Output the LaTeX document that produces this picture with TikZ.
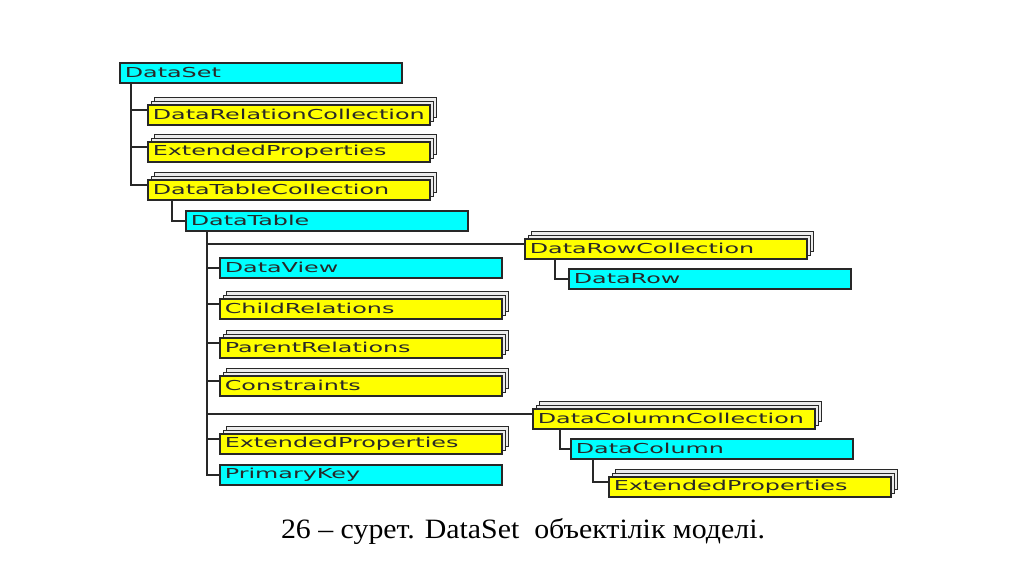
\documentclass[tikz,border=0pt]{standalone}
\usepackage{fontspec}
\setmainfont{Liberation Serif}
\newfontfamily\boxfont[FakeStretch=1.74]{DejaVu Sans}
\newfontfamily\capfont[FakeStretch=1.066]{Liberation Serif}
\usetikzlibrary{positioning, shadows, calc}
\definecolor{Cell}{RGB}{0, 255, 255}
\definecolor{Coll}{RGB}{255, 255, 0}
\definecolor{Edge}{RGB}{40, 40, 40}

\begin{document}
\begin{tikzpicture}[x=1pt, y=-1pt,
    item/.style={anchor=north west, draw=Edge, line width=1.6pt, fill=Cell, text width=272pt, inner xsep=5pt, inner ysep=0pt, minimum height=20pt, align=left, font=\boxfont\fontsize{13.7}{14}\selectfont, text=Edge},
    coll/.style={item, fill=Coll, double copy shadow={shadow xshift=3.5pt, shadow yshift=3.5pt, fill=gray!15, draw=Edge, line width=1pt}},
    link/.style={draw=Edge, line width=1.4pt}
  ]
  \useasboundingbox[fill=white] (0,0) rectangle (1024,574);
  \node[item] (ds) at (119,62) {DataSet};
  \node[coll] (drc) at (147,104) {DataRelationCollection};
  \node[coll] (ep1) at (147,141) {ExtendedProperties};
  \node[coll] (dtc) at (147,179) {DataTableCollection};
  \node[item] (dt) at (185,210) {DataTable};
  \node[coll] (drwc) at (524,238) {DataRowCollection};
  \node[item] (dr) at (568,268) {DataRow};
  \node[item] (dv) at (219,257) {DataView};
  \node[coll] (cr) at (219,298) {ChildRelations};
  \node[coll] (pr) at (219,337) {ParentRelations};
  \node[coll] (cs) at (219,375) {Constraints};
  \node[coll] (dcc) at (532,408) {DataColumnCollection};
  \node[coll] (ep2) at (219,433) {ExtendedProperties};
  \node[item] (pk) at (219,464) {PrimaryKey};
  \node[item] (dc) at (570,438) {DataColumn};
  \node[coll] (ep3) at (608,476) {ExtendedProperties};
  \node[font=\capfont\fontsize{28}{30}\selectfont, anchor=base] (cap) at (523,538) {26 – сурет. DataSet\ \ объектілік моделі.};

  % DataSet branches
  \coordinate (dsT) at ($(ds.south west)+(12,0)$);
  \draw[link] (dsT) |- ([yshift=5pt]drc.west);
  \draw[link] (dsT) |- ([yshift=5pt]ep1.west);
  \draw[link] (dsT) |- ([yshift=5pt]dtc.west);
  \coordinate (dtcT) at ($(dtc.south west)+(25,0)$);
  \draw[link] (dtcT) |- (dt.west);

  % DataTable branches
  \coordinate (dtT) at ($(dt.south west)+(22,0)$);
  \draw[link] (dtT) |- ([yshift=5pt]drwc.west);
  \draw[link] (dtT) |- (dv.west);
  \draw[link] (dtT) |- ([yshift=5pt]cr.west);
  \draw[link] (dtT) |- ([yshift=5pt]pr.west);
  \draw[link] (dtT) |- ([yshift=5pt]cs.west);
  \draw[link] (dtT) |- ([yshift=5pt]dcc.west);
  \draw[link] (dtT) |- ([yshift=5pt]ep2.west);
  \draw[link] (dtT) |- (pk.west);

  % rows and columns
  \coordinate (drwcT) at ($(drwc.south west)+(31,0)$);
  \draw[link] (drwcT) |- (dr.west);
  \coordinate (dccT) at ($(dcc.south west)+(28,0)$);
  \draw[link] (dccT) |- (dc.west);
  \coordinate (dcT) at ($(dc.south west)+(23,0)$);
  \draw[link] (dcT) |- ([yshift=5pt]ep3.west);
\end{tikzpicture}
\end{document}
